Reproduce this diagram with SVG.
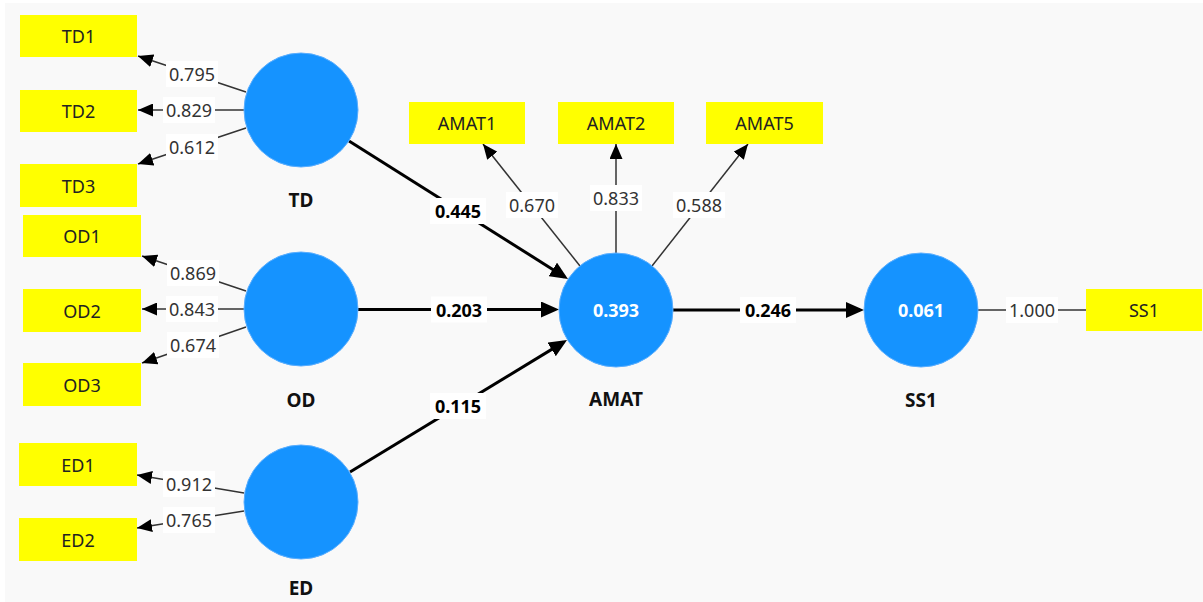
<svg xmlns="http://www.w3.org/2000/svg" width="1203" height="602" viewBox="0 0 1203 602">
<defs>
<style>
.bg{fill:#f9f9f9}
.box{fill:#ffff00}
.lat{fill:#1593ff;stroke:#5aaeff;stroke-width:1}
.bt{font-family:"Noto Sans","Open Sans",sans-serif;font-size:18px;fill:#222;text-anchor:middle;dominant-baseline:central}
.nl{font-family:"Noto Sans","Open Sans",sans-serif;font-size:19px;font-weight:bold;fill:#111;text-anchor:middle;dominant-baseline:central}
.cv{font-family:"Noto Sans","Open Sans",sans-serif;font-size:18px;font-weight:bold;fill:#fff;text-anchor:middle;dominant-baseline:central}
.ld{stroke:#333;stroke-width:1.5;fill:none}
.pc{stroke:#000;stroke-width:3;fill:none}
.lb{fill:#fff}
.lt{font-family:"Noto Sans","Open Sans",sans-serif;font-size:18px;fill:#333;text-anchor:middle;dominant-baseline:central}
.pt{font-family:"Noto Sans","Open Sans",sans-serif;font-size:18px;font-weight:bold;fill:#000;text-anchor:middle;dominant-baseline:central}
</style>
<marker id="a" markerUnits="userSpaceOnUse" markerWidth="15" markerHeight="13" refX="15" refY="6.5" orient="auto">
<path d="M0,0 L15,6.5 L0,13 z" fill="#000"/>
</marker>
<marker id="b" markerUnits="userSpaceOnUse" markerWidth="18" markerHeight="16" refX="14" refY="8" orient="auto">
<path d="M0,0 L18,8 L0,16 z" fill="#000"/>
</marker>
</defs>
<rect x="0" y="0" width="1203" height="602" fill="#fff"/>
<rect class="bg" x="5" y="3" width="1198" height="599"/>

<g id="connectors">
<line class="ld" x1="246" y1="92" x2="138" y2="56" marker-end="url(#a)"/>
<line class="ld" x1="244" y1="110" x2="138" y2="110" marker-end="url(#a)"/>
<line class="ld" x1="246" y1="128" x2="138" y2="164" marker-end="url(#a)"/>
<line class="ld" x1="246" y1="291" x2="142" y2="256" marker-end="url(#a)"/>
<line class="ld" x1="244" y1="309" x2="142" y2="309" marker-end="url(#a)"/>
<line class="ld" x1="246" y1="327" x2="142" y2="363" marker-end="url(#a)"/>
<line class="ld" x1="244" y1="493" x2="137" y2="475" marker-end="url(#a)"/>
<line class="ld" x1="244" y1="511" x2="137" y2="528" marker-end="url(#a)"/>
<line class="ld" x1="580" y1="266" x2="483" y2="144" marker-end="url(#a)"/>
<line class="ld" x1="616" y1="253" x2="616" y2="144" marker-end="url(#a)"/>
<line class="ld" x1="652" y1="266" x2="748" y2="144" marker-end="url(#a)"/>
<line class="ld" x1="978" y1="310" x2="1086" y2="310"/>
<line class="pc" x1="349" y1="141" x2="564.6" y2="276.9" marker-end="url(#b)"/>
<line class="pc" x1="358" y1="309.5" x2="555" y2="309.5" marker-end="url(#b)"/>
<line class="pc" x1="350" y1="472" x2="563.6" y2="342.1" marker-end="url(#b)"/>
<line class="pc" x1="673" y1="310" x2="860" y2="310" marker-end="url(#b)"/>

<rect class="lb" x="166" y="61" width="52" height="26"/><text class="lt" x="192" y="74">0.795</text>
<rect class="lb" x="163" y="97" width="52" height="26"/><text class="lt" x="189" y="110">0.829</text>
<rect class="lb" x="166" y="134" width="52" height="26"/><text class="lt" x="192" y="147">0.612</text>
<rect class="lb" x="167" y="260" width="52" height="26"/><text class="lt" x="193" y="273">0.869</text>
<rect class="lb" x="166" y="296" width="52" height="26"/><text class="lt" x="192" y="309">0.843</text>
<rect class="lb" x="167" y="332" width="52" height="26"/><text class="lt" x="193" y="345">0.674</text>
<rect class="lb" x="163" y="471" width="52" height="26"/><text class="lt" x="189" y="484">0.912</text>
<rect class="lb" x="163" y="507" width="52" height="26"/><text class="lt" x="189" y="520">0.765</text>
<rect class="lb" x="506" y="192" width="52" height="26"/><text class="lt" x="532" y="205">0.670</text>
<rect class="lb" x="590" y="185" width="52" height="26"/><text class="lt" x="616" y="198">0.833</text>
<rect class="lb" x="673" y="192" width="52" height="26"/><text class="lt" x="699" y="205">0.588</text>
<rect class="lb" x="1006" y="297" width="52" height="26"/><text class="lt" x="1032" y="310">1.000</text>
<rect class="lb" x="430" y="198" width="56" height="26"/><text class="pt" x="458" y="211">0.445</text>
<rect class="lb" x="431" y="296.5" width="56" height="26"/><text class="pt" x="459" y="309.5">0.203</text>
<rect class="lb" x="430" y="393" width="56" height="26"/><text class="pt" x="458" y="406">0.115</text>
<rect class="lb" x="740" y="297" width="56" height="26"/><text class="pt" x="768" y="310">0.246</text>
</g>

<g id="TD1"><rect class="box" x="20" y="15" width="117" height="42"/><text class="bt" x="78.5" y="36">TD1</text></g>
<g id="TD2"><rect class="box" x="20" y="90" width="117" height="42"/><text class="bt" x="78.5" y="111">TD2</text></g>
<g id="TD3"><rect class="box" x="20" y="164" width="117" height="43"/><text class="bt" x="78.5" y="185.5">TD3</text></g>
<g id="OD1"><rect class="box" x="23" y="215" width="118" height="42"/><text class="bt" x="82" y="236">OD1</text></g>
<g id="OD2"><rect class="box" x="23" y="289" width="118" height="43"/><text class="bt" x="82" y="310.5">OD2</text></g>
<g id="OD3"><rect class="box" x="23" y="363" width="118" height="43"/><text class="bt" x="82" y="384.5">OD3</text></g>
<g id="ED1"><rect class="box" x="19" y="443" width="118" height="43"/><text class="bt" x="78" y="464.5">ED1</text></g>
<g id="ED2"><rect class="box" x="19" y="518" width="118" height="43"/><text class="bt" x="78" y="539.5">ED2</text></g>
<g id="AMAT1"><rect class="box" x="409" y="102" width="116" height="42"/><text class="bt" x="467" y="123">AMAT1</text></g>
<g id="AMAT2"><rect class="box" x="558" y="102" width="116" height="42"/><text class="bt" x="616" y="123">AMAT2</text></g>
<g id="AMAT5"><rect class="box" x="706" y="102" width="117" height="42"/><text class="bt" x="764.5" y="123">AMAT5</text></g>
<g id="SS1-ind"><rect class="box" x="1086" y="289" width="116" height="42"/><text class="bt" x="1144" y="310">SS1</text></g>

<g id="TD"><circle class="lat" cx="301" cy="110" r="57"/><text class="nl" x="301" y="200">TD</text></g>
<g id="OD"><circle class="lat" cx="301" cy="309" r="57"/><text class="nl" x="301" y="400">OD</text></g>
<g id="ED"><circle class="lat" cx="301" cy="502" r="57"/><text class="nl" x="301" y="588">ED</text></g>
<g id="AMAT"><circle class="lat" cx="616" cy="310" r="57"/><text class="cv" x="616" y="310">0.393</text><text class="nl" x="616" y="399">AMAT</text></g>
<g id="SS1"><circle class="lat" cx="921" cy="310" r="57"/><text class="cv" x="921" y="310">0.061</text><text class="nl" x="921" y="400">SS1</text></g>
</svg>
